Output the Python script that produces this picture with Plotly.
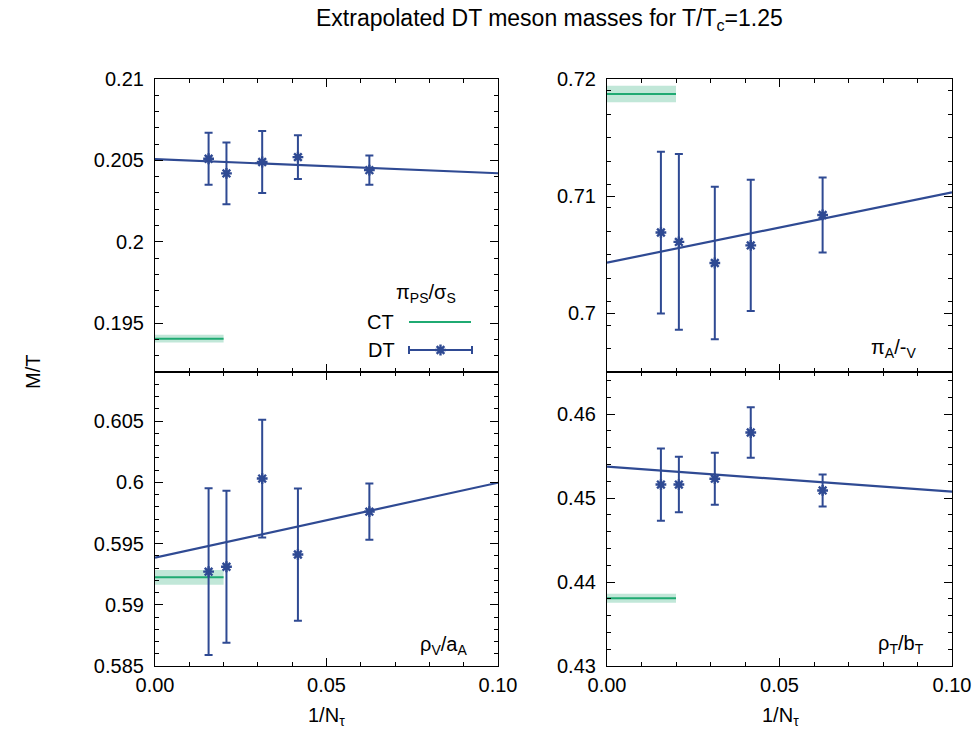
import plotly.graph_objects as go

# ---------------- data ----------------
inv_ntau = [1/64, 1/48, 1/32, 1/24, 1/16]

panel_names = ["π<sub>PS</sub>/σ<sub>S</sub>", "π<sub>A</sub>/-<sub>V</sub>",
               "ρ<sub>V</sub>/a<sub>A</sub>", "ρ<sub>T</sub>/b<sub>T</sub>"]

pi_ps_val = [0.2051, 0.2042, 0.2049, 0.2052, 0.2044]
pi_ps_err = [0.0016, 0.0019, 0.0019, 0.00135, 0.0009]
pi_a_val = [0.7069, 0.7061, 0.7043, 0.7058, 0.7084]
pi_a_err = [0.0069, 0.0075, 0.0065, 0.0056, 0.0032]
rho_v_val = [0.5927, 0.5931, 0.6003, 0.5941, 0.5976]
rho_v_err = [0.0068, 0.0062, 0.0048, 0.0054, 0.0023]
rho_t_val = [0.4516, 0.4516, 0.4523, 0.4578, 0.4509]
rho_t_err = [0.0043, 0.0033, 0.0031, 0.0030, 0.0019]

fit_intercept = [0.20508, 0.70433, 0.59384, 0.45373]
fit_slope = [-0.0087, 0.0600, 0.0612, -0.0298]

ct_val = [0.19405, 0.71872, 0.59224, 0.43806]
ct_err = [0.00024, 0.0007, 0.0006, 0.00054]
ct_xmax = 0.02

x_range = [0.0, 0.1]
x_tickvals = [0.0, 0.05, 0.1]
x_ticktext = ["0.00", "0.05", "0.10"]

y_ranges = [[0.192, 0.21], [0.695, 0.72], [0.585, 0.609], [0.43, 0.465]]
y_tickvals = [[0.195, 0.2, 0.205, 0.21], [0.7, 0.71, 0.72],
              [0.585, 0.59, 0.595, 0.6, 0.605], [0.43, 0.44, 0.45, 0.46]]
y_ticktext = [["0.195", "0.2", "0.205", "0.21"], ["0.7", "0.71", "0.72"],
              ["0.585", "0.59", "0.595", "0.6", "0.605"], ["0.43", "0.44", "0.45", "0.46"]]
y_minor = [0.001, 0.002, 0.001, 0.002]

vals = [pi_ps_val, pi_a_val, rho_v_val, rho_t_val]
errs = [pi_ps_err, pi_a_err, rho_v_err, rho_t_err]

# ---------------- style ----------------
OFF = 0
W, H = 976, 731
DT_COLOR = "#2f4a93"
CT_COLOR = "#1faa72"
CT_BAND = "rgba(31,170,114,0.28)"
FONT = "Liberation Sans, Arial, sans-serif"
FS = 20

# panel pixel boxes in window coordinates: (left, right, top, bottom)
boxes = [(155, 498, 79, 372), (607, 952, 79, 372),
         (155, 498, 372, 666), (607, 952, 372, 666)]

def px_x(px):
    return (px - OFF) / W

def px_y(py):
    return 1 - (py - OFF) / H

fig = go.Figure()

for i in range(4):
    xa = "x" if i == 0 else f"x{i+1}"
    ya = "y" if i == 0 else f"y{i+1}"
    # CT band and line
    fig.add_trace(go.Scatter(
        x=[0, ct_xmax, ct_xmax, 0, 0],
        y=[ct_val[i] - ct_err[i], ct_val[i] - ct_err[i], ct_val[i] + ct_err[i],
           ct_val[i] + ct_err[i], ct_val[i] - ct_err[i]],
        fill="toself", fillcolor=CT_BAND, line=dict(width=0),
        mode="lines", hoverinfo="skip", showlegend=False, xaxis=xa, yaxis=ya))
    fig.add_trace(go.Scatter(
        x=[0, ct_xmax], y=[ct_val[i], ct_val[i]], mode="lines",
        line=dict(color=CT_COLOR, width=2), showlegend=False, xaxis=xa, yaxis=ya))
    # fit line
    fx = [x_range[0], x_range[1]]
    fy = [fit_intercept[i] + fit_slope[i] * v for v in fx]
    fig.add_trace(go.Scatter(
        x=fx, y=fy, mode="lines", line=dict(color=DT_COLOR, width=2.2),
        showlegend=False, xaxis=xa, yaxis=ya))
    # DT data
    fig.add_trace(go.Scatter(
        x=inv_ntau, y=vals[i], mode="markers",
        marker=dict(symbol="asterisk-open", size=9, color=DT_COLOR,
                    line=dict(color=DT_COLOR, width=2.4)),
        error_y=dict(type="data", array=errs[i], visible=True, color=DT_COLOR,
                     thickness=2, width=4),
        showlegend=False, xaxis=xa, yaxis=ya))

# layout axes
layout = dict(width=W, height=H, margin=dict(l=0, r=0, t=0, b=0, autoexpand=False),
              paper_bgcolor="white", plot_bgcolor="white",
              font=dict(family=FONT, size=FS, color="black"))
for i, (l, r, t, b) in enumerate(boxes):
    xk = "xaxis" if i == 0 else f"xaxis{i+1}"
    yk = "yaxis" if i == 0 else f"yaxis{i+1}"
    xa = "x" if i == 0 else f"x{i+1}"
    ya = "y" if i == 0 else f"y{i+1}"
    layout[xk] = dict(
        domain=[px_x(l), px_x(r)], range=x_range, anchor=ya,
        tickmode="array", tickvals=x_tickvals, ticktext=x_ticktext,
        showticklabels=(i >= 2), ticks="inside", ticklen=8, tickwidth=1.2,
        tickcolor="black", showline=True, linecolor="black", linewidth=1.2,
        mirror="ticks", showgrid=False, zeroline=False, automargin=False,
        ticklabelstandoff=1,
        minor=dict(tickmode="linear", tick0=0, dtick=0.01, ticks="inside",
                   ticklen=4, tickwidth=1.2, tickcolor="black", showgrid=False),
        tickfont=dict(size=FS))
    layout[yk] = dict(
        domain=[px_y(b), px_y(t)], range=y_ranges[i], anchor=xa,
        tickmode="array", tickvals=y_tickvals[i], ticktext=y_ticktext[i],
        ticks="inside", ticklen=8, tickwidth=1.2, tickcolor="black",
        showline=True, linecolor="black", linewidth=1.2, mirror="ticks",
        showgrid=False, zeroline=False, automargin=False, ticklabelstandoff=6,
        minor=dict(tickmode="linear", tick0=y_ranges[i][0], dtick=y_minor[i],
                   ticks="inside", ticklen=4, tickwidth=1.2, tickcolor="black",
                   showgrid=False),
        tickfont=dict(size=FS))
fig.update_layout(**layout)

# ---------- legend (in top-left panel) ----------
l, r, t, b = boxes[0]
def fx_(px):
    return x_range[0] + (px - l) / (r - l) * (x_range[1] - x_range[0])
def fy_(py):
    return y_ranges[0][0] + (b - py) / (b - t) * (y_ranges[0][1] - y_ranges[0][0])

fig.add_trace(go.Scatter(x=[fx_(409), fx_(471)], y=[fy_(322), fy_(322)], mode="lines",
                         line=dict(color=CT_COLOR, width=2), showlegend=False,
                         xaxis="x", yaxis="y"))
fig.add_trace(go.Scatter(
    x=[fx_(440.5)], y=[fy_(350)], mode="markers",
    marker=dict(symbol="asterisk-open", size=9, color=DT_COLOR,
                line=dict(color=DT_COLOR, width=2.4)),
    error_x=dict(type="data", array=[fx_(472) - fx_(440.5)], visible=True,
                 color=DT_COLOR, thickness=2, width=4),
    showlegend=False, xaxis="x", yaxis="y"))

ann = []
def add_text(text, px, py, xanchor="center", yanchor="middle", size=FS, angle=0):
    ann.append(dict(text=text, x=px_x(px), y=px_y(py), xref="paper", yref="paper",
                    xanchor=xanchor, yanchor=yanchor, showarrow=False,
                    textangle=angle, font=dict(size=size, family=FONT, color="black")))

add_text("Extrapolated DT meson masses for T/T<sub>c</sub>=1.25", 549, 20, size=23)
add_text("M/T", 33, 372, angle=-90)
add_text("1/N<sub>τ</sub>", 326, 716)
add_text("1/N<sub>τ</sub>", 780, 716)
add_text(panel_names[0], 426, 293)
add_text("CT", 396, 322, xanchor="right")
add_text("DT", 397, 350, xanchor="right")
add_text(panel_names[1], 918, 348, xanchor="right")
add_text(panel_names[2], 469, 645, xanchor="right")
add_text(panel_names[3], 926, 644, xanchor="right")
fig.update_layout(annotations=ann)

fig.write_html("out.html")
